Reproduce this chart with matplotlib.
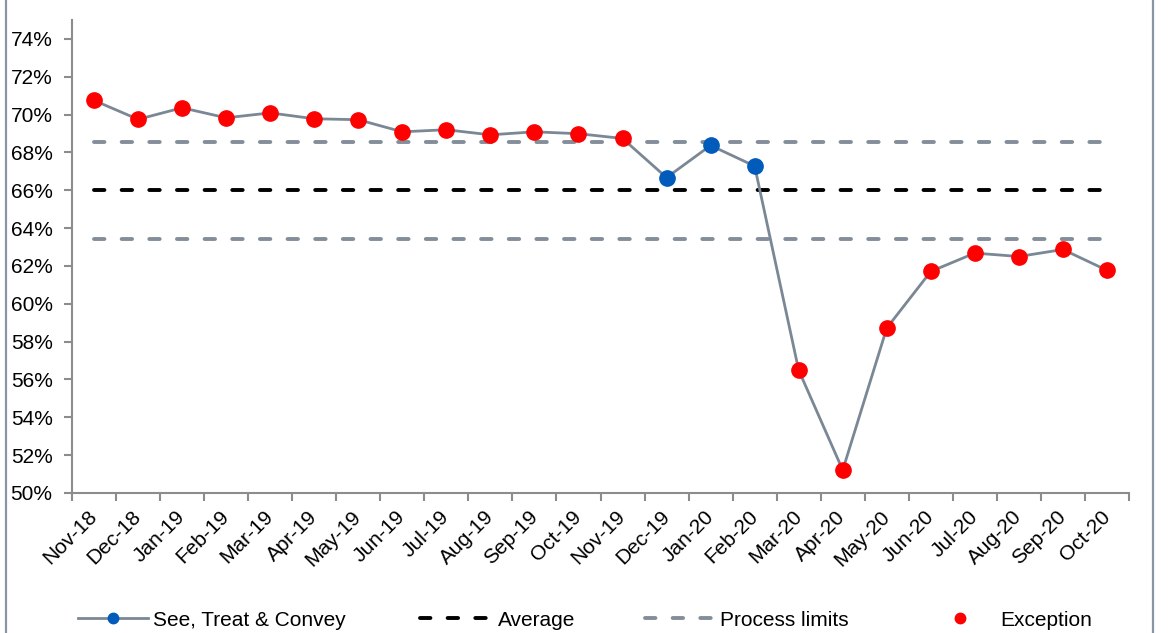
import matplotlib
matplotlib.use("Agg")
import matplotlib.pyplot as plt
from matplotlib.lines import Line2D
from matplotlib.ticker import FuncFormatter, FixedLocator
import numpy as np

plt.rcParams['font.family'] = ['Liberation Sans', 'DejaVu Sans']

months = ["Nov-18", "Dec-18", "Jan-19", "Feb-19", "Mar-19", "Apr-19", "May-19", "Jun-19",
          "Jul-19", "Aug-19", "Sep-19", "Oct-19", "Nov-19", "Dec-19", "Jan-20", "Feb-20",
          "Mar-20", "Apr-20", "May-20", "Jun-20", "Jul-20", "Aug-20", "Sep-20", "Oct-20"]
values = [70.75, 69.75, 70.36, 69.83, 70.09, 69.78, 69.73, 69.09, 69.2, 68.93, 69.09, 68.99,
          68.74, 66.67, 68.37, 67.28, 56.49, 51.21, 58.72, 61.71, 62.68, 62.5, 62.87, 61.77]
exception = [True]*13 + [False, False, False] + [True]*8
average = 66.0
upper_limit = 68.56
lower_limit = 63.45

W, H = 1169, 633
fig = plt.figure(figsize=(W/100, H/100), dpi=100)
ax = fig.add_axes([72/W, 1-493/H, (1129-72)/W, (493-20)/H])

x = np.arange(len(months))
line_col = '#7A8795'
lim_col = '#838E9A'
ax.plot(x, values, color=line_col, lw=2, zorder=3)
nx = [i for i in x if not exception[i]]
ex = [i for i in x if exception[i]]
ax.plot(nx, [values[i] for i in nx], 'o', color='#005BBB', ms=11, zorder=4, lw=0)
ax.plot(ex, [values[i] for i in ex], 'o', color='#FF0000', ms=11, zorder=4, lw=0)

dlw = 2.8
dash = (2.68, 4.43)
ax.plot(x, [average]*len(x), color='black', lw=dlw, dashes=dash, dash_capstyle='round', zorder=2)
ax.plot(x, [upper_limit]*len(x), color=lim_col, lw=dlw, dashes=dash, dash_capstyle='round', zorder=2)
ax.plot(x, [lower_limit]*len(x), color=lim_col, lw=dlw, dashes=dash, dash_capstyle='round', zorder=2)

fs = 15
ax.set_xlim(-0.5, len(months)-0.5)
ax.set_ylim(50, 75)
ax.set_yticks(np.arange(50, 75, 2))
ax.yaxis.set_major_formatter(FuncFormatter(lambda v, p: f"{v:.0f}%"))
ax.set_xticks(x)
ax.set_xticklabels(months, rotation=45, ha='right', va='center', rotation_mode='anchor')
ax.xaxis.set_minor_locator(FixedLocator(np.arange(-0.5, len(months), 1)))
ax.tick_params(axis='x', which='major', length=0, pad=15, labelsize=fs)
ax.tick_params(axis='x', which='minor', length=6, width=1.5, color='#8C8C8C', direction='out')
ax.tick_params(axis='y', length=6, width=1.5, color='#8C8C8C', direction='out', labelsize=fs, pad=8)
for s in ['top', 'right']:
    ax.spines[s].set_visible(False)
for s in ['left', 'bottom']:
    ax.spines[s].set_color('#8C8C8C')
    ax.spines[s].set_linewidth(1.5)

# frame
fig.add_artist(Line2D([5.5/W, 5.5/W], [0, 1], color='#8896A4', lw=1.6, transform=fig.transFigure))
fig.add_artist(Line2D([1152.5/W, 1152.5/W], [0, 1], color='#8896A4', lw=1.6, transform=fig.transFigure))

# legends
ly = 1 - 620/H
def leg(handle, label, x0, hl):
    l = fig.legend([handle], [label], loc='center left', bbox_to_anchor=(x0/W, ly),
                   frameon=False, fontsize=fs, handlelength=hl, handletextpad=0.25,
                   borderpad=0, borderaxespad=0)
    return l

h1 = Line2D([], [], color=line_col, lw=2, marker='o', ms=7.5, mfc='#005BBB', mec='#005BBB')
h2 = Line2D([], [], color='black', lw=dlw, dashes=dash, dash_capstyle='round')
h3 = Line2D([], [], color=lim_col, lw=dlw, dashes=dash, dash_capstyle='round')
h4 = Line2D([], [], color='#FF0000', lw=0, marker='o', ms=7.5)
leg(h1, 'See, Treat & Convey', 78, 3.35)
leg(h2, 'Average', 420, 3.5)
leg(h3, 'Process limits', 645, 3.35)
leg(h4, 'Exception', 925, 3.35)

fig.savefig('out.png', dpi=100)
